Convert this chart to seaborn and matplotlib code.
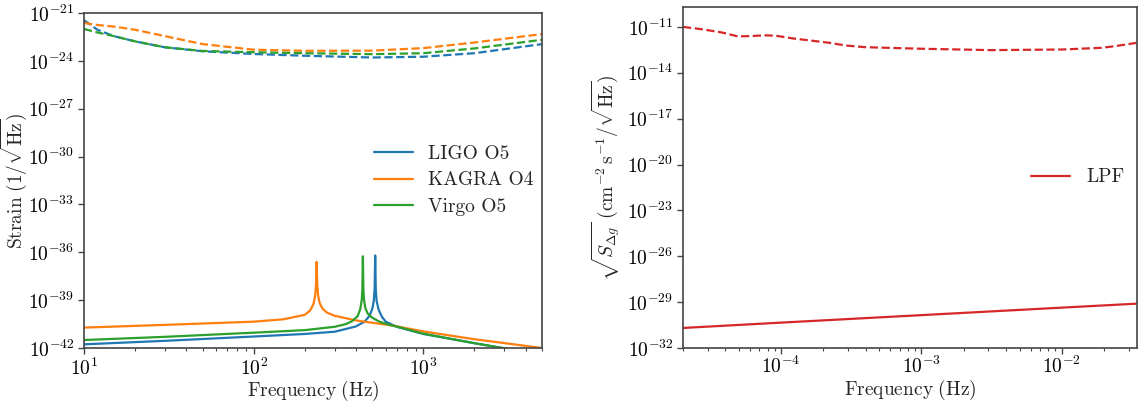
import numpy as np
import pandas as pd
import matplotlib
matplotlib.use("Agg")
import matplotlib.pyplot as plt
import seaborn as sns
from matplotlib.ticker import NullLocator

# ---------------- data (log10 values) ----------------
# Left panel: detector noise curves (dashed)
noise_freq = [10, 12, 15, 20, 30, 50, 100, 200, 500, 1000, 2000, 5000]
ligo_noise = [-21.45, -22.05, -22.45, -22.78, -23.15, -23.40, -23.57, -23.68, -23.79, -23.74, -23.52, -22.95]
kagra_noise = [-21.63, -21.75, -21.85, -22.05, -22.45, -22.95, -23.30, -23.37, -23.36, -23.20, -22.85, -22.32]
virgo_noise = [-22.00, -22.22, -22.45, -22.78, -23.15, -23.38, -23.46, -23.52, -23.58, -23.52, -23.22, -22.68]

# Left panel: signal curves (solid)
ligo_sig_f = [10, 30, 100, 200, 300, 400, 450, 480, 500, 510, 516, 520, 524, 530, 545, 570, 600, 700, 1000, 2000, 3000, 5000]
ligo_sig = [-41.77, -41.55, -41.28, -41.12, -40.98, -40.65, -40.35, -40.00, -39.55, -39.05, -38.30, -36.20,
            -38.30, -39.05, -39.60, -40.05, -40.35, -40.68, -41.12, -41.70, -42.02, -42.60]
virgo_sig_f = [10, 30, 100, 200, 300, 350, 380, 410, 425, 433, 437, 440, 443, 447, 455, 470, 500, 550, 640, 700, 1000, 2000, 3000, 5000]
virgo_sig = [-41.50, -41.30, -41.04, -40.88, -40.67, -40.50, -40.32, -40.00, -39.55, -39.00, -38.30, -36.25,
             -38.30, -39.00, -39.50, -39.85, -40.10, -40.35, -40.57, -40.66, -41.10, -41.70, -42.02, -42.60]
kagra_sig_f = [10, 30, 100, 150, 200, 215, 225, 230, 233, 235, 237, 240, 245, 255, 270, 300, 400, 500, 640, 1000, 2000, 5000]
kagra_sig = [-40.72, -40.55, -40.35, -40.20, -39.92, -39.65, -39.25, -38.75, -38.10, -36.60,
             -38.10, -38.75, -39.20, -39.55, -39.78, -39.98, -40.27, -40.42, -40.57, -40.96, -41.45, -42.00]

# Right panel: LPF
lpf_noise_f = [2e-5, 2.8e-5, 3.8e-5, 4.9e-5, 6.2e-5, 7.6e-5, 9.2e-5, 1.2e-4, 2.2e-4, 2.9e-4, 4e-4,
               1e-3, 3.1e-3, 1e-2, 1.9e-2, 2.4e-2, 3.43e-2]
lpf_noise = [-11.00, -11.17, -11.37, -11.62, -11.60, -11.55, -11.58, -11.75, -12.04, -12.22, -12.33,
             -12.43, -12.52, -12.48, -12.37, -12.26, -12.04]
lpf_sig_f = [2e-5, 1e-4, 1e-3, 1e-2, 3.43e-2]
lpf_sig = [-30.69, -30.34, -29.85, -29.36, -29.10]

left_labels = ["LIGO O5", "KAGRA O4", "Virgo O5"]
right_labels = ["LPF"]

# ---------------- style ----------------
sns.set_style("ticks")
plt.rcParams.update({
    "font.family": ["cmr10", "DejaVu Serif"],
    "mathtext.fontset": "cm",
    "axes.formatter.use_mathtext": True,
    "axes.unicode_minus": False,
    "axes.edgecolor": "#444444",
    "axes.linewidth": 1.2,
    "xtick.color": "#444444",
    "ytick.color": "#444444",
    "xtick.labelcolor": "black",
    "ytick.labelcolor": "black",
})

pal = sns.color_palette("tab10")
c_blue, c_orange, c_green, c_red = pal[0], pal[1], pal[2], pal[3]

fig = plt.figure(figsize=(11.42, 4.01), dpi=100)
ax1 = fig.add_axes([84/1142, 53/401, 458/1142, 335/401])
ax2 = fig.add_axes([683/1142, 53/401, 454/1142, 341/401])

def line(ax, f, logv, color, dashed=False, label=None):
    df = pd.DataFrame({"f": f, "v": 10.0 ** np.array(logv)})
    sns.lineplot(data=df, x="f", y="v", ax=ax, color=color, sort=False,
                 linestyle="--" if dashed else "-", linewidth=1.6,
                 label=label, legend=False)

line(ax1, ligo_sig_f, ligo_sig, c_blue, label=left_labels[0])
line(ax1, kagra_sig_f, kagra_sig, c_orange, label=left_labels[1])
line(ax1, virgo_sig_f, virgo_sig, c_green, label=left_labels[2])
line(ax1, noise_freq, ligo_noise, c_blue, dashed=True)
line(ax1, noise_freq, kagra_noise, c_orange, dashed=True)
line(ax1, noise_freq, virgo_noise, c_green, dashed=True)

line(ax2, lpf_sig_f, lpf_sig, c_red, label=right_labels[0])
line(ax2, lpf_noise_f, lpf_noise, c_red, dashed=True)

for ax in (ax1, ax2):
    ax.set_xscale("log")
    ax.set_yscale("log")
    ax.tick_params(axis="both", which="major", labelsize=14, length=4, width=1, pad=3)
    ax.tick_params(axis="both", which="minor", length=2.5, width=0.8)
    for s in ax.spines.values():
        s.set_visible(True)
ax2.tick_params(axis="x", which="major", pad=1.5)

ax1.set_xlim(10, 5000)
ax1.set_ylim(1e-42, 1e-21)
ax1.set_yticks([10.0 ** e for e in range(-42, -20, 3)])
ax1.yaxis.set_minor_locator(NullLocator())
ax1.set_xlabel(r"$\mathrm{Frequency\ (Hz)}$", fontsize=14)
ax1.set_ylabel(r"$\mathrm{Strain}\ (1/\sqrt{\mathrm{Hz}})$", fontsize=14)
ax1.xaxis.set_label_coords(0.5, -0.092)
ax1.yaxis.set_label_coords(-0.12, 0.5)
ax1.legend(loc="center right", frameon=False, fontsize=14, handlelength=2.0,
           labelspacing=0.45, bbox_to_anchor=(1.02, 0.5))

ax2.set_xlim(2e-5, 3.43e-2)
ax2.set_ylim(1e-32, 10 ** -9.7)
ax2.set_yticks([10.0 ** e for e in range(-32, -10, 3)])
ax2.yaxis.set_minor_locator(NullLocator())
ax2.set_xlabel(r"$\mathrm{Frequency\ (Hz)}$", fontsize=14)
ax2.set_ylabel(r"$\sqrt{S_{\Delta g}}\ (\mathrm{cm^{-2}\,s^{-1}/\sqrt{Hz}})$", fontsize=14)
ax2.xaxis.set_label_coords(0.5, -0.088)
ax2.yaxis.set_label_coords(-0.135, 0.5)
ax2.legend(loc="center right", frameon=False, fontsize=14, handlelength=2.0,
           bbox_to_anchor=(1.01, 0.5))

fig.savefig("out.png", dpi=100)
